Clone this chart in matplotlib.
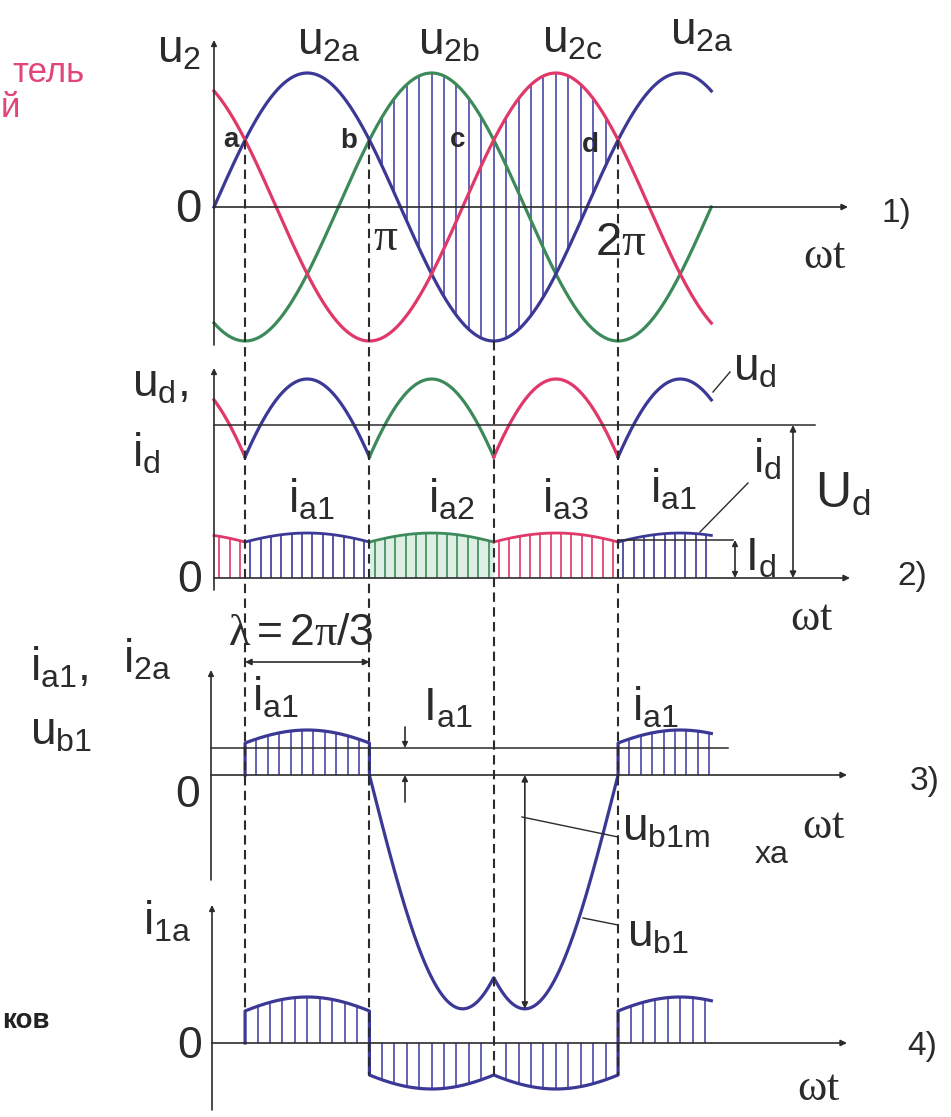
import numpy as np
import matplotlib.pyplot as plt

plt.rcParams['font.family'] = ['Liberation Sans', 'DejaVu Sans']
plt.rcParams['mathtext.fontset'] = 'custom'
plt.rcParams['mathtext.rm'] = 'Liberation Sans'
plt.rcParams['mathtext.it'] = 'Liberation Serif'
plt.rcParams['mathtext.bf'] = 'Liberation Sans:bold'

# three-phase secondary voltages u2a, u2b, u2c (lag in degrees)
phase_lag = [0, 120, 240]
phase_colors = ['#3b3896', '#3c8a5a', '#e03868']

# natural commutation points a, b, c, d and the end of the sweep (degrees)
commutation = [30, 150, 270, 390]
point_labels = ['a', 'b', 'c', 'd']
t_end = 480

# which diode conducts: (start, end, phase index)
conduction = [(0, 30, 2), (30, 150, 0), (150, 270, 1), (270, 390, 2), (390, 480, 0)]

INK = '#2b2b2b'
HATCH = '#4a48a8'

# vertical layout of the four panels (figure px, downwards)
P1_ZERO, P1_AMP = 207, 134
P2_ZERO, UD_BASE, UD_AMP, UD_LEVEL = 578, 535, 156, 425
ID_BASE, ID_AMP, ID_LEVEL = 27, 18, 540
P3_ZERO, IA_LEVEL, P3_BASE, P3_AMP, UB_AMP = 775, 748, 19, 26, 135
P4_ZERO, P4_BASE, P4_AMP = 1043, 18, 28

DEG0 = 214            # px where wt = 0
PX = 373 / 360        # px per degree


def phase(t, k):
    return np.sin(np.radians(np.asarray(t, float) - phase_lag[k]))


fig = plt.figure(figsize=(9.51, 11.17), dpi=100)
ax = fig.add_axes([0, 0, 1, 1])
ax.set_xlim(-DEG0 / PX, (951 - DEG0) / PX)
ax.set_ylim(1117, 0)
ax.axis('off')
lab = fig.add_axes([0, 0, 1, 1])
lab.set_xlim(0, 951)
lab.set_ylim(1117, 0)
lab.axis('off')


def arrow(x0, y0, x1, y1, style='-|>', lw=1.2, ms=11, axes=lab):
    axes.annotate('', xy=(x1, y1), xytext=(x0, y0),
                  arrowprops=dict(arrowstyle=style, color=INK, lw=lw,
                                  mutation_scale=ms, shrinkA=0, shrinkB=0))


def label(s, x, y, size=33, color=INK, **kw):
    lab.text(x, y, s, fontsize=size, color=color, ha='left', va='baseline', **kw)


# coordinate axes of the four panels
for xa, ytop, ybot, yzero, xend in [(214, 40, 345, P1_ZERO, 848),
                                     (214, 368, 590, P2_ZERO, 850),
                                     (211, 670, 880, P3_ZERO, 847),
                                     (212, 905, 1110, P4_ZERO, 847)]:
    arrow(xa, ybot, xa, ytop, ms=8)
    arrow(xa, yzero, xend, yzero, ms=9)

# ---- 1) phase voltages, reverse voltage of diode a hatched
th = np.arange(162, 390, 12)
top = P1_ZERO - P1_AMP * np.maximum(phase(th, 1), phase(th, 2))
bot = P1_ZERO - P1_AMP * phase(th, 0)
ax.vlines(th, top, bot, color=HATCH, lw=1.2, zorder=1)

t = np.linspace(0, t_end, 1200)
for k in [1, 0, 2]:
    ax.plot(t, P1_ZERO - P1_AMP * phase(t, k), color=phase_colors[k], lw=2.3, zorder=3)

# ---- 2) rectified voltage u_d and anode currents
for t0, t1, k in conduction:
    ts = np.linspace(t0, t1, 200)
    ax.plot(ts, UD_BASE - UD_AMP * phase(ts, k), color=phase_colors[k], lw=2.3, zorder=3)
    yi = P2_ZERO - ID_BASE - ID_AMP * phase(ts, k)
    if k == 1:
        ax.fill_between(ts, yi, P2_ZERO, color='#dcefe2', lw=0, zorder=0)
    ax.plot(ts, yi, color=phase_colors[k], lw=2.0, zorder=3)
    th = np.arange(t0 + 5, t1, 10)
    ax.vlines(th, P2_ZERO - ID_BASE - ID_AMP * phase(th, k), P2_ZERO,
              color=phase_colors[k], lw=1.2, zorder=1)

lab.plot([214, 815], [UD_LEVEL, UD_LEVEL], color=INK, lw=1.1)
lab.plot([618, 733], [ID_LEVEL, ID_LEVEL], color=INK, lw=1.1)
arrow(793, P2_ZERO, 793, UD_LEVEL, style='<|-|>', ms=9)
arrow(735, P2_ZERO, 735, ID_LEVEL, style='<|-|>', ms=8)

# ---- 3) anode current i_a1 and diode voltage u_b1
t_a = np.linspace(30, 150, 200)
t_b = np.linspace(150, 390, 600)
t_c = np.linspace(390, t_end, 150)
ub = phase(t_b, 0) - np.maximum(phase(t_b, 1), phase(t_b, 2))
xs = np.concatenate([[30], t_a, t_b, t_c])
ys = np.concatenate([[P3_ZERO], P3_ZERO - P3_BASE - P3_AMP * phase(t_a, 0),
                     P3_ZERO - UB_AMP * ub,
                     P3_ZERO - P3_BASE - P3_AMP * phase(t_c, 0)])
ax.plot(xs, ys, color=phase_colors[0], lw=2.3, zorder=3)
for th in [np.arange(41, 150, 11), np.arange(401, t_end, 11)]:
    ax.vlines(th, P3_ZERO - P3_BASE - P3_AMP * phase(th, 0), P3_ZERO,
              color=HATCH, lw=1.2, zorder=1)
lab.plot([211, 728], [IA_LEVEL, IA_LEVEL], color=INK, lw=1.1)
arrow(405, 727, 405, IA_LEVEL, ms=8)
arrow(405, 802, 405, P3_ZERO, ms=8)
t_m = 300
arrow(t_m, P3_ZERO, t_m, P3_ZERO - UB_AMP * (phase(t_m, 0) - phase(t_m, 2)),
      style='<|-|>', ms=9, axes=ax)

# ---- 4) primary current i_1a
segs = [(30, 150, 0, 1), (150, 270, 1, -1), (270, 390, 2, -1), (390, t_end, 0, 1)]
xs, ys = [30], [P4_ZERO]
for t0, t1, k, s in segs:
    ts = np.linspace(t0, t1, 200)
    xs.extend(ts)
    ys.extend(P4_ZERO - s * (P4_BASE + P4_AMP * phase(ts, k)))
    th = np.arange(t0 + 12, t1, 12)
    ax.vlines(th, P4_ZERO - s * (P4_BASE + P4_AMP * phase(th, k)), P4_ZERO,
              color=HATCH, lw=1.2, zorder=1)
ax.plot(xs, ys, color=phase_colors[0], lw=2.3, zorder=3)

# dashed commutation lines through all panels
for i, tc in enumerate(commutation):
    y_top = P1_ZERO - P1_AMP * phase(tc, 0)
    y_bot = P4_ZERO - P4_BASE - P4_AMP * 0.5 if i == 0 else P4_ZERO + P4_BASE + P4_AMP * 0.5
    ax.plot([tc, tc], [y_top, y_bot], color=INK, lw=1.5, ls=(0, (4.5, 2.6)), zorder=4)

# lambda = 2pi/3 span between a and b
arrow(commutation[0], 662, commutation[1], 662, style='<|-|>', ms=9, axes=ax)

# leader lines
for (x0, y0), (x1, y1) in [((713, 392), (730, 372)), ((700, 532), (748, 483)),
                           ((522, 817), (618, 837)), ((583, 918), (618, 925))]:
    lab.plot([x0, x1], [y0, y1], color=INK, lw=1.0)

# ---- texts
red_txt = '#e2457a'
label('тель', 12, 82, 25, red_txt)
label('й', 1, 117, 25, red_txt)
label('ков', 2, 1028, 20, '#222222', fontweight='bold')

label(r'$\mathrm{u_2}$', 157, 62)
for s, x, y in [('2a', 297, 55), ('2b', 418, 55), ('2c', 542, 52), ('2a', 670, 45)]:
    label(r'$\mathrm{u_{%s}}$' % s, x, y)
for s, x, y in zip(point_labels, [223, 340, 450, 582], [147, 148, 147, 152]):
    label(s, x, y, 20, fontweight='bold')
label('0', 175, 222, 34)
label(r'$\pi$', 373, 250, 34)
label(r'$\mathrm{2}\pi$', 595, 255, 34)
label('1)', 882, 222, 24)
label(r'$\omega t$', 803, 268, 32)

label(r'$\mathrm{u_d,}$', 132, 397)
label(r'$\mathrm{i_d}$', 132, 467)
label('0', 177, 592, 32)
for s, x, y in [('a1', 288, 513), ('a2', 428, 513), ('a3', 542, 513), ('a1', 650, 503)]:
    label(r'$\mathrm{i_{%s}}$' % s, x, y)
label(r'$\mathrm{u_d}$', 733, 380)
label(r'$\mathrm{i_d}$', 753, 473)
label(r'$\mathrm{U_d}$', 815, 508, 36)
label(r'$\mathrm{I_d}$', 745, 570)
label('2)', 897, 585, 24)
label(r'$\omega t$', 790, 630, 32)
label(r'$\lambda\mathrm{=2}\pi\mathrm{/3}$', 228, 645, 32)

label(r'$\mathrm{i_{a1},}$', 30, 680)
label(r'$\mathrm{i_{2a}}$', 123, 673)
label(r'$\mathrm{u_{b1}}$', 30, 745)
label('0', 175, 807, 32)
label(r'$\mathrm{i_{a1}}$', 252, 710)
label(r'$\mathrm{I_{a1}}$', 423, 720)
label(r'$\mathrm{i_{a1}}$', 632, 720)
label('3)', 910, 790, 24)
label(r'$\omega t$', 802, 838, 32)
label(r'$\mathrm{u_{b1m}}$', 622, 840)
label('xa', 755, 863, 23)
label(r'$\mathrm{u_{b1}}$', 627, 947)

label(r'$\mathrm{i_{1a}}$', 143, 935)
label('0', 177, 1058, 32)
label('4)', 907, 1055, 24)
label(r'$\omega t$', 797, 1100, 32)

fig.savefig('out.png', dpi=100)
